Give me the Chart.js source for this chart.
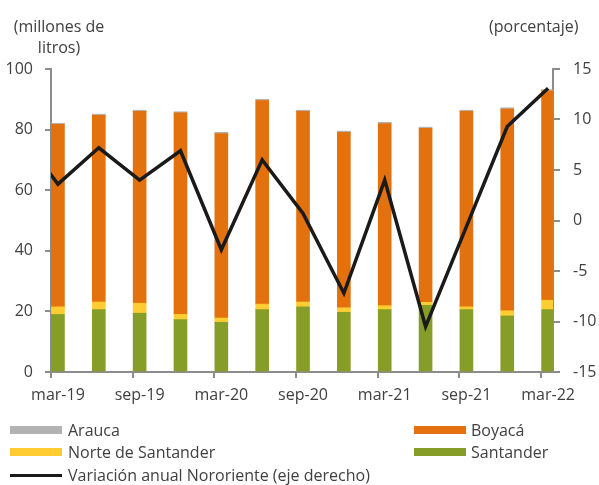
<!DOCTYPE html>
<html>
<head>
<meta charset="utf-8">
<script src="https://cdn.jsdelivr.net/npm/chart.js@4/dist/chart.umd.min.js"></script>
<style>
  body { margin: 0; background: #fff; font-family: "Open Sans", sans-serif; color: #404040; }
  #wrap { position: relative; width: 599px; height: 485px; overflow: hidden; }
  #chart { position: absolute; left: 0; top: 0; }
  .txt { position: absolute; font-size: 16px; line-height: 21px; white-space: nowrap; }
  .box { position: absolute; width: 52px; height: 8px; }
</style>
</head>
<body>
<div id="wrap">
  <canvas id="chart" width="599" height="485"></canvas>
  <div class="txt" style="left:0; width:118px; top:16px; text-align:center;">(millones de<br>litros)</div>
  <div class="txt" style="left:489px; top:16px;">(porcentaje)</div>

  <!-- leyenda -->
  <div class="box" style="left:10px; top:426px; background:#b2b2b2;"></div>
  <div class="txt" style="left:68px; top:420px;">Arauca</div>
  <div class="box" style="left:10px; top:448px; background:#ffcd32;"></div>
  <div class="txt" style="left:68px; top:442px;">Norte de Santander</div>
  <div class="box" style="left:10px; top:474px; height:3px; background:#1a1a1a;"></div>
  <div class="txt" style="left:68px; top:465px;">Variación anual Nororiente (eje derecho)</div>
  <div class="box" style="left:414px; top:426px; background:#e3710d;"></div>
  <div class="txt" style="left:471px; top:420px;">Boyacá</div>
  <div class="box" style="left:414px; top:448px; background:#869e28;"></div>
  <div class="txt" style="left:471px; top:442px;">Santander</div>
</div>
<script>
// trimestres
const quarters = ['mar-19', 'jun-19', 'sep-19', 'dic-19', 'mar-20', 'jun-20', 'sep-20',
  'dic-20', 'mar-21', 'jun-21', 'sep-21', 'dic-21', 'mar-22'];

// millones de litros
const santander = [19.0, 20.6, 19.4, 17.3, 16.4, 20.6, 21.5, 19.7, 20.6, 22.0, 20.6, 18.5, 20.6];
const norteSantander = [2.5, 2.5, 3.3, 1.7, 1.4, 1.8, 1.6, 1.5, 1.3, 1.0, 0.9, 1.7, 3.1];
const boyaca = [60.2, 61.6, 63.3, 66.5, 60.9, 67.2, 62.9, 57.9, 60.1, 57.4, 64.5, 66.6, 69.1];
const arauca = [0.4, 0.4, 0.4, 0.4, 0.4, 0.4, 0.4, 0.4, 0.4, 0.4, 0.4, 0.4, 0.4];

// variación anual (porcentaje), con el punto anterior dic-18
const variacionPrev = 9.0;
const variacion = [3.6, 7.2, 4.0, 6.9, -2.9, 6.0, 0.7, -7.2, 4.0, -10.5, -0.6, 9.3, 13.1];

const toXY = arr => arr.map((v, i) => ({ x: i, y: v }));
const lineData = [{ x: -1, y: variacionPrev }].concat(toXY(variacion));

const axisColor = '#8c8c8c';
const X_MIN = -0.17, X_MAX = 12.12;

// marcas del eje x entre trimestres
const xTickMarks = {
  id: 'xTickMarks',
  afterDraw(chart) {
    const x = chart.scales.x;
    const ctx = chart.ctx;
    ctx.save();
    ctx.strokeStyle = axisColor;
    ctx.lineWidth = 2;
    for (let v = X_MIN; v < X_MAX; v += 2) {
      const px = Math.round(x.getPixelForValue(v));
      ctx.beginPath();
      ctx.moveTo(px, x.top);
      ctx.lineTo(px, x.top + 6);
      ctx.stroke();
    }
    ctx.restore();
  }
};

Chart.defaults.font.family = "'Open Sans', sans-serif";
Chart.defaults.font.size = 16;
Chart.defaults.color = '#404040';

new Chart(document.getElementById('chart'), {
  type: 'bar',
  data: {
    datasets: [
      { type: 'line', label: 'Variación anual Nororiente (eje derecho)', data: lineData, yAxisID: 'y2',
        borderColor: '#1a1a1a', borderWidth: 3.5, pointRadius: 0, tension: 0, order: 0, clip: 0 },
      { label: 'Santander', data: toXY(santander), backgroundColor: '#869e28', yAxisID: 'y', order: 1, barThickness: 13 },
      { label: 'Norte de Santander', data: toXY(norteSantander), backgroundColor: '#ffcd32', yAxisID: 'y', order: 1, barThickness: 13 },
      { label: 'Boyacá', data: toXY(boyaca), backgroundColor: '#e3710d', yAxisID: 'y', order: 1, barThickness: 13 },
      { label: 'Arauca', data: toXY(arauca), backgroundColor: '#b2b2b2', yAxisID: 'y', order: 1, barThickness: 13 }
    ]
  },
  options: {
    responsive: false,
    animation: false,
    layout: { padding: { top: 69, left: 0, right: 0, bottom: 0 } },
    plugins: { legend: { display: false }, tooltip: { enabled: false } },
    scales: {
      x: {
        type: 'linear',
        offset: false,
        min: X_MIN,
        max: X_MAX,
        stacked: true,
        afterBuildTicks: scale => {
          scale.ticks = [0, 2, 4, 6, 8, 10, 12].map(v => ({ value: v }));
        },
        afterFit: scale => { scale.height = 113; },
        ticks: {
          autoSkip: false,
          maxRotation: 0,
          padding: 8,
          callback: v => quarters[v]
        },
        grid: { offset: false, drawOnChartArea: false, color: 'transparent', tickLength: 6 },
        border: { color: axisColor, width: 2 }
      },
      y: {
        position: 'left',
        stacked: true,
        min: 0,
        max: 100,
        afterFit: scale => { scale.width = 51; },
        ticks: { stepSize: 20, padding: 12 },
        grid: { drawOnChartArea: false, color: axisColor, lineWidth: 2, tickLength: 6 },
        border: { color: axisColor, width: 2 }
      },
      y2: {
        position: 'right',
        min: -15,
        max: 15,
        afterFit: scale => { scale.width = 46; },
        ticks: { stepSize: 5, padding: 13 },
        grid: { drawOnChartArea: false, color: axisColor, lineWidth: 2, tickLength: 7 },
        border: { color: axisColor, width: 2 }
      }
    }
  },
  plugins: [xTickMarks]
});
</script>
</body>
</html>
